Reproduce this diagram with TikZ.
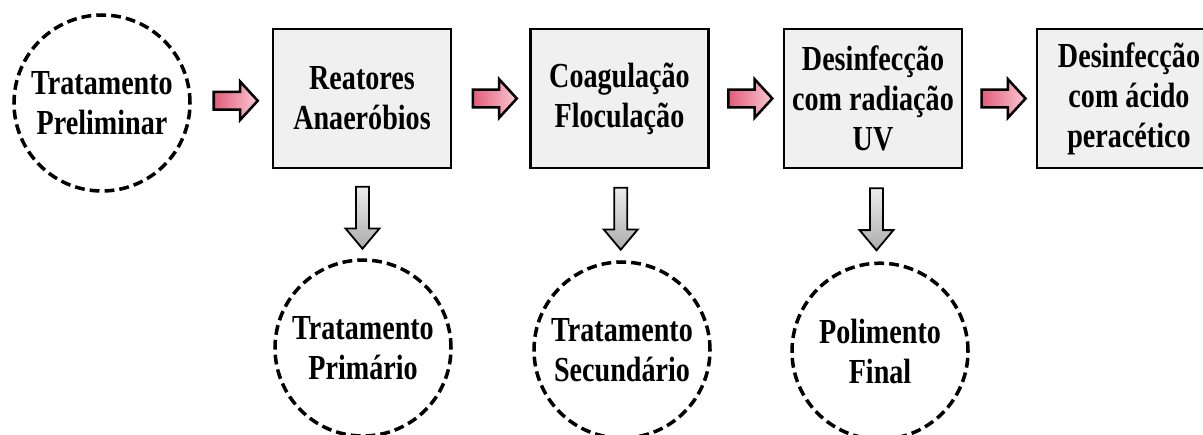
\documentclass[tikz,border=0pt]{standalone}
\usepackage{fontspec}
\setmainfont{Liberation Serif}[FakeStretch=0.8]
\usetikzlibrary{shapes.arrows,calc}
\definecolor{boxfill}{RGB}{240,240,240}
\definecolor{pinkdark}{RGB}{226,92,122}
\definecolor{pinklight}{RGB}{250,200,210}
\begin{document}
\begin{tikzpicture}[
    every node/.style={font=\fontsize{25}{28.5}\selectfont\bfseries, align=center},
    stage/.style={draw, line width=2pt, fill=boxfill, minimum width=4.45cm, minimum height=3.475cm, inner sep=2pt},
    level/.style={circle, draw, line width=2.5pt, dash pattern=on 7pt off 3.6pt, minimum size=4.4cm, inner sep=0pt},
    flow/.style={single arrow, draw, line width=1.8pt, inner sep=0.19cm, minimum height=1.1cm,
        single arrow head extend=0.26cm, single arrow tip angle=95, left color=pinkdark, right color=pinklight},
    drop/.style={single arrow, draw, line width=1.3pt, inner sep=0.14cm, minimum height=1.55cm,
        single arrow head extend=0.26cm, single arrow tip angle=80, shape border rotate=270,
        top color=gray!15, bottom color=gray!65}]
    \clip (0,0) rectangle (30.075,-10.85);

    % Treatment stages
    \node[level] (pre) at (2.55,-2.575) {Tratamento\\Preliminar};
    \node[stage] (rea) at (9.05,-2.4625) {Reatores\\Anaeróbios};
    \node[stage] (coa) at (15.4875,-2.4625) {Coagulação\\Floculação};
    \node[stage] (uv) at (21.825,-2.4625) {Desinfecção\\com radiação\\UV};
    \node[stage, minimum width=4.6cm] (paa) at (28.225,-2.4625) {Desinfecção\\com ácido\\peracético};

    % Treatment levels
    \node[level] (pri) at (9.075,-8.7) {Tratamento\\Primário};
    \node[level] (sec) at (15.55,-8.75) {Tratamento\\Secundário};
    \node[level] (pol) at (22.0,-8.78) {Polimento\\Final};

    % Flow arrows
    \node[flow] (f1) at ($(pre.east)!0.5!(rea.west)$) {};
    \node[flow] (f2) at ($(rea.east)!0.5!(coa.west)$) {};
    \node[flow] (f3) at ($(coa.east)!0.5!(uv.west)$) {};
    \node[flow] (f4) at ($(uv.east)!0.5!(paa.west)$) {};

    % Level arrows
    \node[drop] (d1) at ($(rea.south)!0.5!(pri.north)$) {};
    \node[drop] (d2) at ($(coa.south)!0.5!(sec.north)$) {};
    \node[drop] (d3) at ($(uv.south)!0.5!(pol.north)$) {};
\end{tikzpicture}
\end{document}
